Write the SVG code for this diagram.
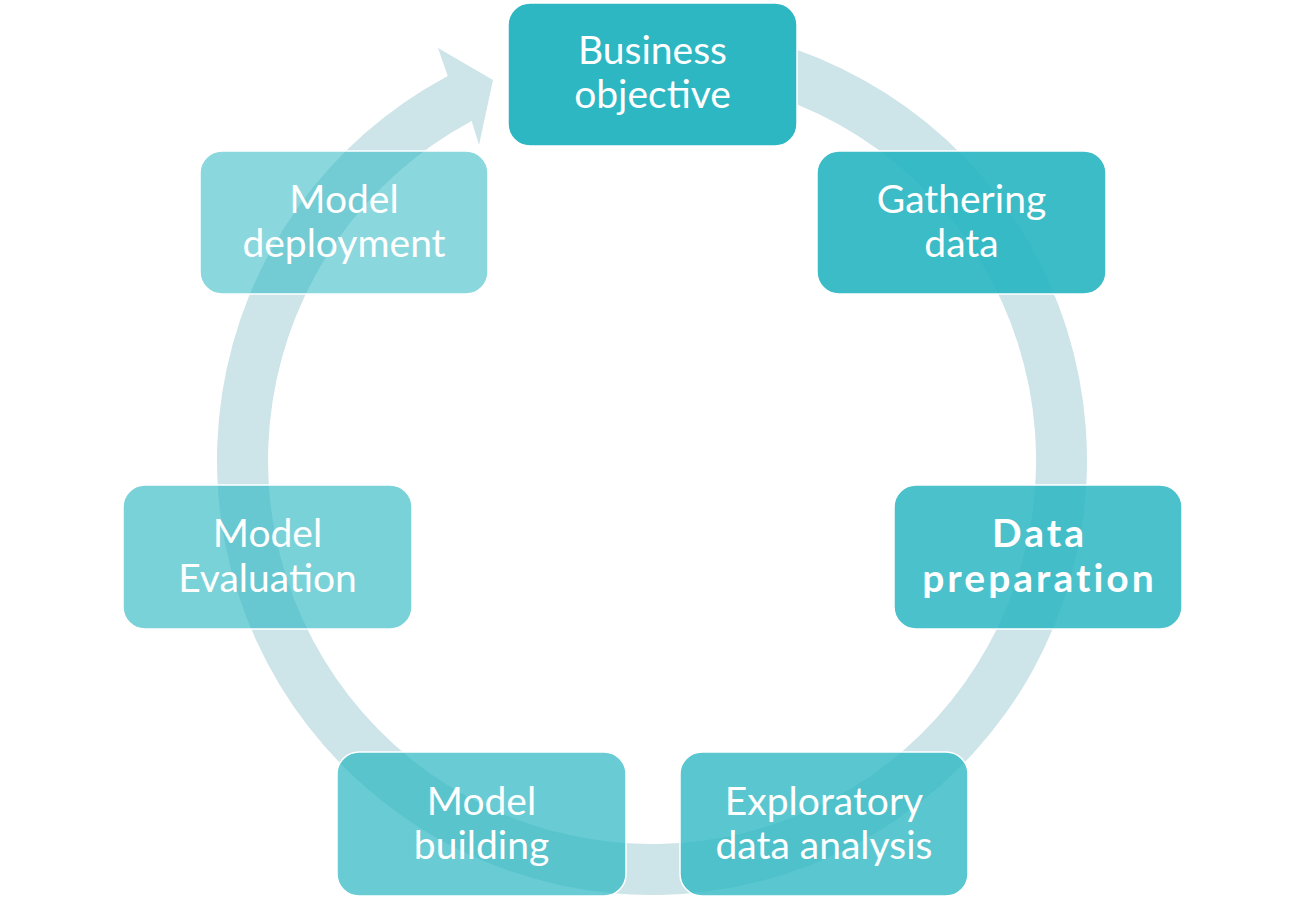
<svg xmlns="http://www.w3.org/2000/svg" width="1305" height="899" viewBox="0 0 1305 899">
<style>
.box{fill:#26B5C1;stroke:#ffffff;stroke-width:1.5}
.lbl{fill:#ffffff;font-family:Lato,"Open Sans","Liberation Sans",sans-serif;font-size:39px;text-anchor:middle}
.bold{font-weight:bold;letter-spacing:3px}
.ring{fill:#CDE4E9}
</style>
<rect width="1305" height="899" fill="#ffffff"/>
<g id="connectors">
<path class="ring" d="M746.1,35.3 A435,435 0 1 1 447.8,75.9 L438,48 L493,80 L479,145 L471.7,121 A384,384 0 1 0 735.1,85.1 Z"/>
</g>
<g id="n1">
<rect class="box" x="508" y="3" width="289" height="143" rx="22" fill-opacity="0.97"/>
<text class="lbl" x="652.5" y="64">Business</text>
<text class="lbl" x="652.5" y="108">objective</text>
</g>
<g id="n2">
<rect class="box" x="817" y="151" width="289" height="143" rx="22" fill-opacity="0.90"/>
<text class="lbl" x="961.5" y="213">Gathering</text>
<text class="lbl" x="961.5" y="257">data</text>
</g>
<g id="n3">
<rect class="box" x="894" y="485" width="288" height="144" rx="22" fill-opacity="0.83"/>
<text class="lbl bold" x="1039.5" y="547">Data</text>
<text class="lbl bold" x="1039.5" y="592">preparation</text>
</g>
<g id="n4">
<rect class="box" x="680" y="752" width="288" height="144" rx="22" fill-opacity="0.76"/>
<text class="lbl" x="824" y="815">Exploratory</text>
<text class="lbl" x="824" y="859">data analysis</text>
</g>
<g id="n5">
<rect class="box" x="337" y="752" width="289" height="144" rx="22" fill-opacity="0.69"/>
<text class="lbl" x="481.5" y="815">Model</text>
<text class="lbl" x="481.5" y="859">building</text>
</g>
<g id="n6">
<rect class="box" x="123" y="485" width="289" height="144" rx="22" fill-opacity="0.61"/>
<text class="lbl" x="267.5" y="547">Model</text>
<text class="lbl" x="267.5" y="592">Evaluation</text>
</g>
<g id="n7">
<rect class="box" x="200" y="151" width="288" height="143" rx="22" fill-opacity="0.54"/>
<text class="lbl" x="344" y="213">Model</text>
<text class="lbl" x="344" y="257">deployment</text>
</g>
</svg>
